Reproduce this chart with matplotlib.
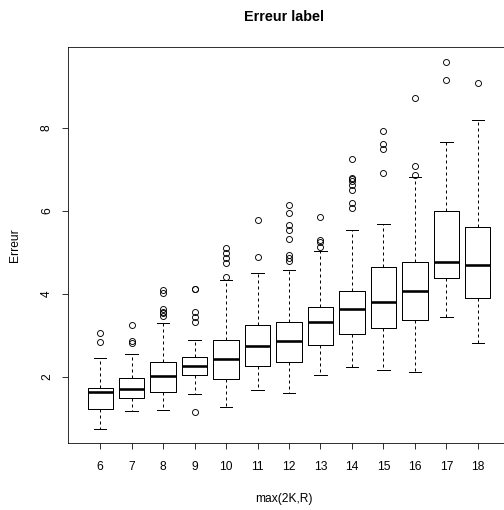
import matplotlib
matplotlib.use('Agg')
import matplotlib.pyplot as plt

plt.rcParams['font.family'] = ['Liberation Sans', 'DejaVu Sans']

# Categories on the x axis
groups = [6, 7, 8, 9, 10, 11, 12, 13, 14, 15, 16, 17, 18]

# Box statistics
whisker_low = [0.75, 1.18, 1.20, 1.58, 1.27, 1.69, 1.61, 2.04, 2.24, 2.16, 2.11, 3.45, 2.83]
q1 = [1.24, 1.49, 1.65, 2.06, 1.94, 2.27, 2.35, 2.76, 3.04, 3.18, 3.37, 4.39, 3.90]
medians = [1.65, 1.70, 2.02, 2.27, 2.43, 2.75, 2.86, 3.33, 3.64, 3.81, 4.07, 4.77, 4.71]
q3 = [1.73, 1.97, 2.35, 2.47, 2.89, 3.25, 3.32, 3.69, 4.07, 4.66, 4.76, 6.01, 5.61]
whisker_high = [2.46, 2.56, 3.29, 2.88, 4.33, 4.51, 4.58, 5.03, 5.55, 5.69, 6.81, 7.66, 8.19]
outliers = [
    [3.05, 2.84],
    [3.25, 2.87, 2.81],
    [4.10, 4.02, 3.65, 3.57, 3.53, 3.48],
    [4.13, 4.11, 3.57, 3.45, 3.33, 1.16],
    [5.11, 4.98, 4.86, 4.74, 4.41],
    [5.78, 4.88],
    [6.14, 5.94, 5.66, 5.53, 5.33, 4.94, 4.87, 4.80],
    [5.85, 5.30, 5.26, 5.14],
    [7.26, 6.80, 6.76, 6.71, 6.63, 6.51, 6.19, 6.07],
    [7.93, 7.61, 7.49, 6.91],
    [8.71, 7.08, 6.86],
    [9.60, 9.16],
    [9.08],
]

stats = []
for i, g in enumerate(groups):
    stats.append({
        'label': str(g),
        'whislo': whisker_low[i],
        'q1': q1[i],
        'med': medians[i],
        'q3': q3[i],
        'whishi': whisker_high[i],
        'fliers': outliers[i],
    })

W, H = 504, 510
fig = plt.figure(figsize=(W / 72, H / 72), dpi=72)
# right edge of the frame is cut off in the original
ax = fig.add_axes([68 / W, (H - 443) / H, (510 - 68) / W, (443 - 47) / H])

positions = list(range(1, len(groups) + 1))
ax.bxp(stats, positions=positions, widths=0.8,
       boxprops=dict(color='black', linewidth=1),
       medianprops=dict(color='black', linewidth=2.6, solid_capstyle='butt'),
       whiskerprops=dict(color='black', linewidth=1, linestyle=(0, (3, 3))),
       capprops=dict(color='black', linewidth=1),
       capwidths=0.4,
       flierprops=dict(marker='o', markerfacecolor='none', markeredgecolor='black',
                       markersize=6, markeredgewidth=0.9))

ax.set_xlim(-0.02, 14.02)
ax.set_ylim(0.41, 9.95)
ax.set_xticks(positions)
ax.set_xticklabels([str(g) for g in groups])
ax.set_yticks([2, 4, 6, 8])
ax.set_yticklabels(['2', '4', '6', '8'], rotation=90, va='center')
ax.tick_params(axis='both', direction='out', length=6, width=0.8, labelsize=12)
ax.tick_params(axis='x', pad=12)
ax.tick_params(axis='y', pad=9)
for s in ax.spines.values():
    s.set_linewidth(0.8)

fig.text(284 / W, 1 - 17 / H, 'Erreur label', ha='center', va='center',
         fontsize=14.4, fontweight='bold')
fig.text(284 / W, 1 - 499 / H, 'max(2K,R)', ha='center', va='center', fontsize=12)
fig.text(15 / W, 1 - 245 / H, 'Erreur', ha='center', va='center', fontsize=12,
         rotation=90)

fig.savefig('out.png', dpi=72)
